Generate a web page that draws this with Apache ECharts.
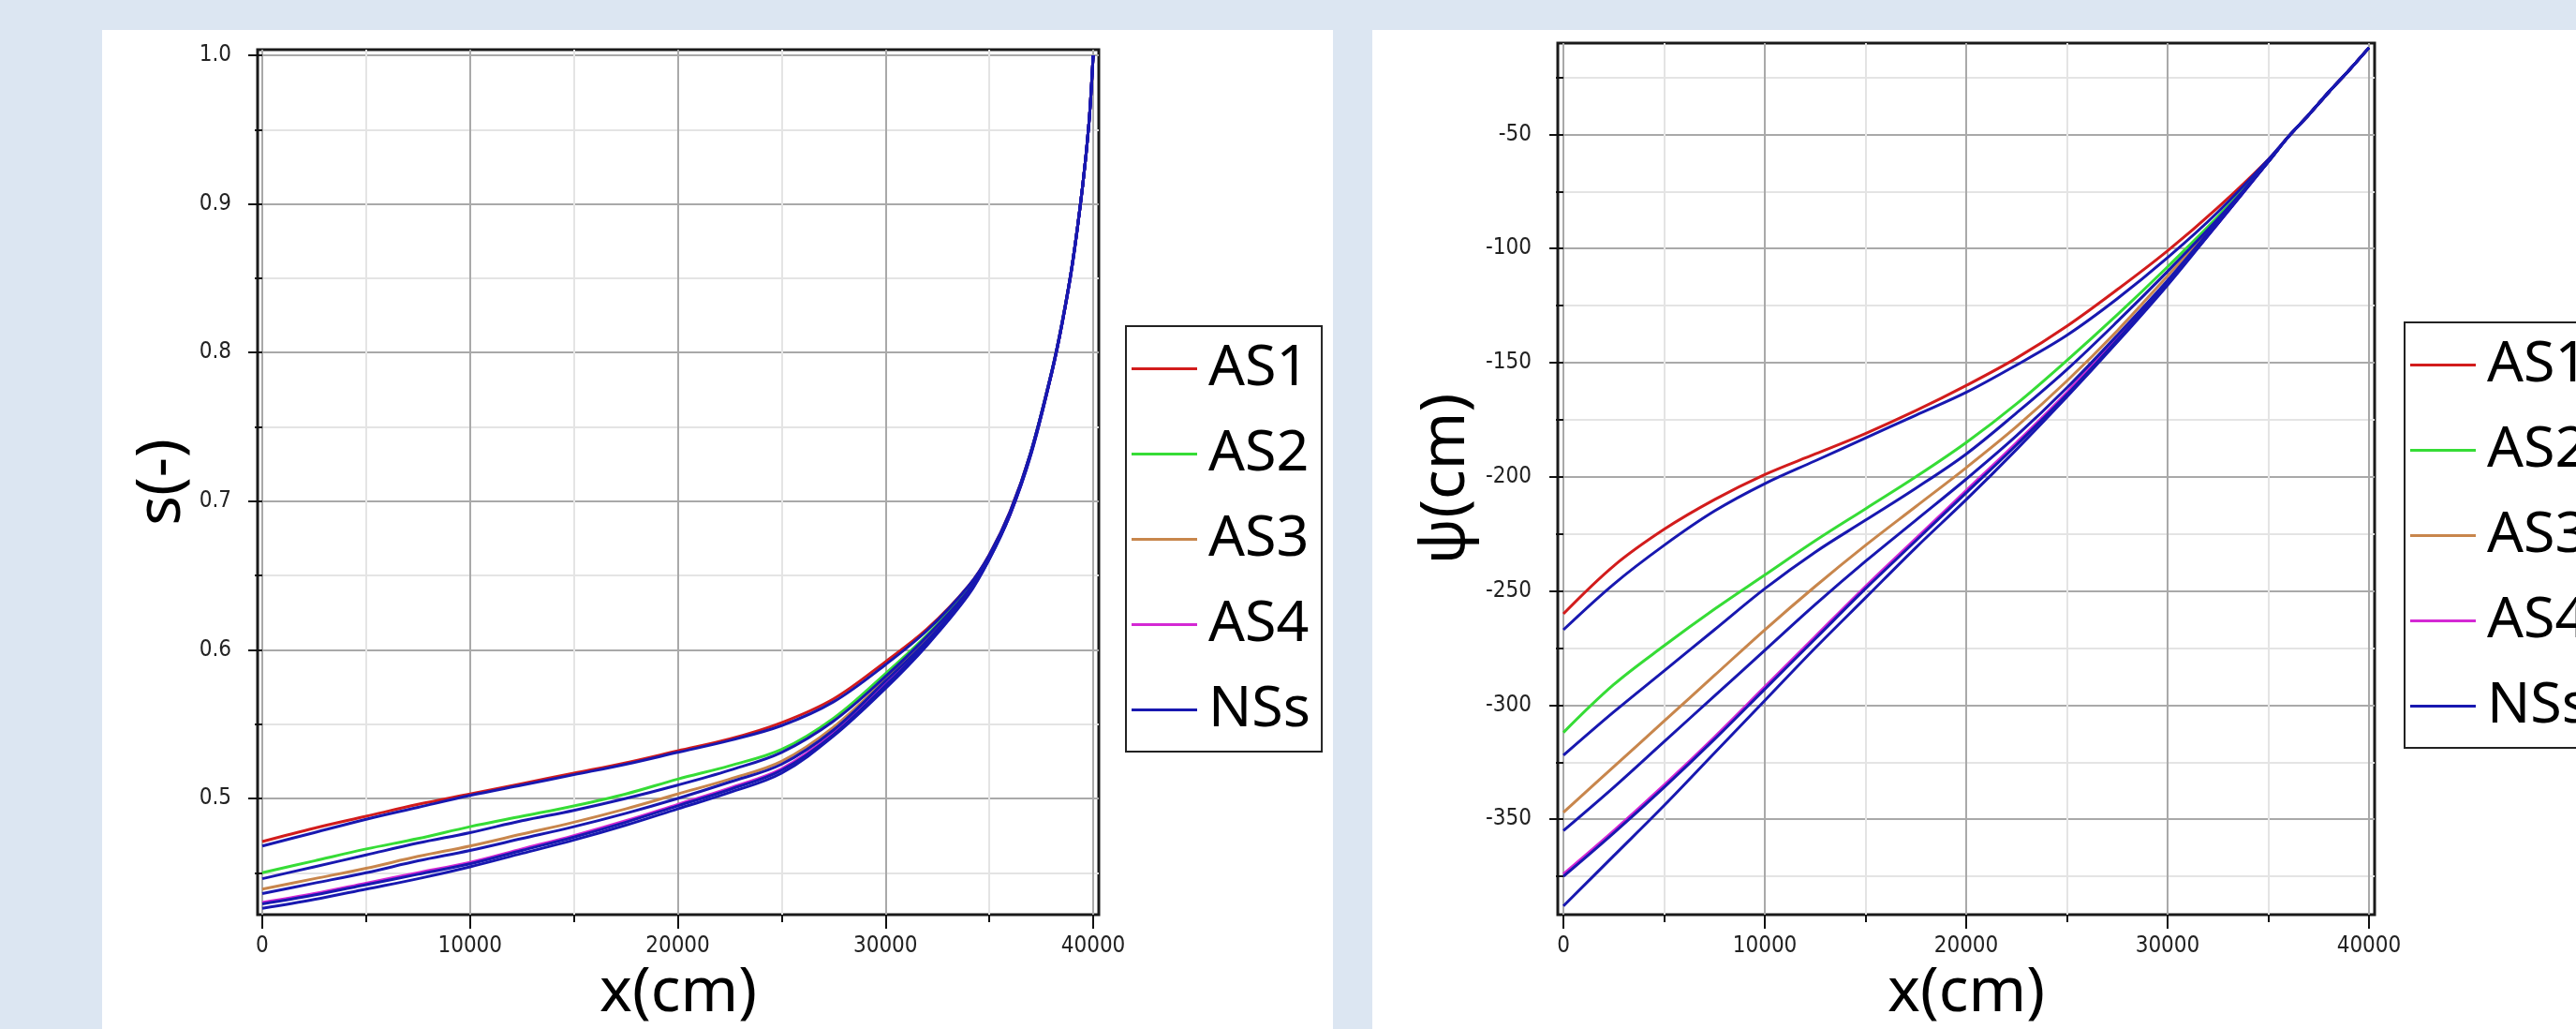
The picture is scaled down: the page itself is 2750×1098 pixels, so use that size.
<!DOCTYPE html>
<html>
<head>
<meta charset="utf-8">
<script src="https://cdn.jsdelivr.net/npm/echarts@6/dist/echarts.min.js"></script>
<style>
  html, body { margin: 0; padding: 0; background: #dce6f2; }
  .panel { position: absolute; top: 32px; height: 1066px; background: #fff; }
  #chart { position: absolute; left: 0; top: 0; width: 2750px; height: 1098px; }
</style>
</head>
<body>
<div class="panel" style="left:109px;width:1314px"></div>
<div class="panel" style="left:1465px;width:1285px"></div>
<div id="chart"></div>
<script>
// left chart: saturation s(-) along x(cm)
const xLeft = [0, 2500, 5000, 7500, 10000, 12500, 15000, 17500, 20000, 22500, 25000, 27500,
  30000, 32000, 34000, 35000, 36000, 37000, 38000, 38500, 39000, 39500, 39800, 40000]
const sAS1 = [0.471, 0.480, 0.488, 0.496, 0.503, 0.510, 0.517, 0.524, 0.532, 0.540, 0.551, 0.567, 0.592, 0.614, 0.643, 0.664, 0.693, 0.733, 0.787, 0.820, 0.860, 0.913, 0.955, 1.000]
const sAS2 = [0.450, 0.458, 0.466, 0.473, 0.481, 0.488, 0.495, 0.503, 0.513, 0.522, 0.533, 0.554, 0.584, 0.610, 0.641, 0.663, 0.692, 0.733, 0.787, 0.820, 0.860, 0.913, 0.955, 1.000]
const sAS3 = [0.439, 0.446, 0.453, 0.461, 0.468, 0.476, 0.484, 0.493, 0.503, 0.513, 0.525, 0.548, 0.580, 0.607, 0.639, 0.662, 0.692, 0.732, 0.786, 0.819, 0.860, 0.913, 0.955, 1.000]
const sAS4 = [0.430, 0.436, 0.443, 0.450, 0.457, 0.466, 0.475, 0.485, 0.496, 0.507, 0.520, 0.544, 0.577, 0.605, 0.638, 0.662, 0.691, 0.732, 0.786, 0.819, 0.859, 0.913, 0.955, 1.000]
const sNS1 = [0.468, 0.477, 0.486, 0.494, 0.502, 0.509, 0.516, 0.523, 0.531, 0.539, 0.549, 0.565, 0.590, 0.613, 0.643, 0.664, 0.693, 0.733, 0.787, 0.820, 0.860, 0.913, 0.955, 1.000]
const sNS2 = [0.446, 0.454, 0.462, 0.470, 0.477, 0.485, 0.492, 0.500, 0.509, 0.519, 0.531, 0.552, 0.582, 0.609, 0.640, 0.663, 0.692, 0.733, 0.787, 0.820, 0.860, 0.913, 0.955, 1.000]
const sNS3 = [0.436, 0.443, 0.450, 0.458, 0.465, 0.473, 0.481, 0.490, 0.500, 0.511, 0.523, 0.546, 0.579, 0.606, 0.639, 0.662, 0.692, 0.732, 0.786, 0.819, 0.860, 0.913, 0.955, 1.000]
const sNS4 = [0.429, 0.435, 0.442, 0.449, 0.456, 0.465, 0.474, 0.484, 0.495, 0.506, 0.519, 0.543, 0.576, 0.604, 0.638, 0.661, 0.691, 0.732, 0.786, 0.819, 0.859, 0.913, 0.955, 1.000]
const sNS5 = [0.426, 0.432, 0.439, 0.446, 0.454, 0.463, 0.472, 0.482, 0.493, 0.504, 0.517, 0.542, 0.574, 0.603, 0.637, 0.661, 0.691, 0.731, 0.786, 0.819, 0.859, 0.913, 0.955, 1.000]

// right chart: pressure head psi(cm) along x(cm)
const xRight = [0, 2500, 5000, 7500, 10000, 12500, 15000, 17500, 20000, 22500, 25000, 27500,
  30000, 32500, 35000, 36000, 37000, 38000, 39000, 40000]
const psiAS1 = [-260, -239, -223, -210, -199, -190, -181, -171, -160, -148, -134, -118, -101, -82, -61, -51, -41.5, -31.5, -22, -12]
const psiAS2 = [-312, -291, -274, -258, -243, -228, -214, -200, -185, -168, -149, -129, -108, -86, -62, -51, -41.5, -31.5, -22, -12]
const psiAS3 = [-347, -327, -307, -287, -267, -248, -230, -213, -196, -178, -158, -136, -112, -88, -62, -51, -41.5, -31.5, -22, -12]
const psiAS4 = [-374, -355, -335, -314, -292, -270, -248, -227, -206, -185, -163, -139, -115, -89, -62, -51, -41.5, -31.5, -22, -12]
const psiNS1 = [-267, -247, -230, -215, -203, -193, -183, -173, -163, -151, -138, -122, -104, -84, -61, -51, -41.5, -31.5, -22, -12]
const psiNS2 = [-322, -303, -285, -267, -249, -233, -219, -205, -190, -172, -153, -132, -110, -87, -62, -51, -41.5, -31.5, -22, -12]
const psiNS3 = [-355, -336, -316, -296, -276, -256, -237, -219, -201, -182, -161, -138, -114, -88, -62, -51, -41.5, -31.5, -22, -12]
const psiNS4 = [-375, -356, -336, -315, -293, -271, -249, -228, -207, -186, -164, -140, -115, -89, -62, -51, -41.5, -31.5, -22, -12]
const psiNS5 = [-388, -366, -344, -321, -298, -275, -253, -231, -210, -188, -165, -141, -116, -89, -62, -51, -41.5, -31.5, -22, -12]

// tick labels
const xMajorTicks = [0, 10000, 20000, 30000, 40000]
const xMinorTicks = [5000, 15000, 25000, 35000]
const sMajorTicks = [0.5, 0.6, 0.7, 0.8, 0.9, 1.0]
const sMinorTicks = [0.45, 0.55, 0.65, 0.75, 0.85, 0.95]
const psiMajorTicks = [-350, -300, -250, -200, -150, -100, -50]
const psiMinorTicks = [-375, -325, -275, -225, -175, -125, -75, -25]

const legendNames = ['AS1', 'AS2', 'AS3', 'AS4', 'NSs']
const colors = { AS1: '#d21c1c', AS2: '#36dc36', AS3: '#c8864c', AS4: '#d428d4', NSs: '#1818b0' }

const tickFont = "'Liberation Sans Narrow', 'DejaVu Sans Condensed', sans-serif"
const bigFont = "'Noto Sans', 'Open Sans', sans-serif"

const myChart = echarts.init(document.getElementById('chart'), null, { renderer: 'canvas' })

const majorAxis = (gridIndex, position, min, max, ticks, name, nameGap, fmt) => ({
  type: 'value',
  gridIndex,
  position,
  min,
  max,
  name,
  nameLocation: 'middle',
  nameGap,
  nameTextStyle: { fontFamily: bigFont, fontSize: 66, color: '#000' },
  axisLine: { show: false },
  axisTick: { show: true, length: 15, customValues: ticks, lineStyle: { color: '#111', width: 2 } },
  axisLabel: {
    show: true,
    customValues: ticks,
    margin: position === 'left' ? 28 : 22,
    fontFamily: tickFont,
    fontSize: 24,
    color: '#222',
    formatter: fmt || ((v) => String(v)),
  },
  splitLine: { show: true, lineStyle: { color: '#a9a9a9', width: 2 } },
})

const minorAxis = (gridIndex, position, min, max, ticks) => ({
  type: 'value',
  gridIndex,
  position,
  min,
  max,
  axisLine: { show: false },
  axisTick: { show: true, length: 8, customValues: ticks, lineStyle: { color: '#111', width: 2 } },
  axisLabel: { show: false },
  splitLine: { show: true, lineStyle: { color: '#e4e4e4', width: 2 } },
})

const toPairs = (xs, ys) => xs.map((x, i) => [x, ys[i]])

const makeSeries = (name, xs, ys, axisIndex) => ({
  name,
  type: 'line',
  xAxisIndex: axisIndex,
  yAxisIndex: axisIndex,
  data: toPairs(xs, ys),
  color: colors[name],
  symbol: 'none',
  smooth: 0.35,
  lineStyle: { width: 3, color: colors[name] },
  animation: false,
})

const makeLegend = (left, top) => ({
  left,
  top,
  orient: 'vertical',
  data: legendNames,
  icon: 'rect',
  itemWidth: 70,
  itemHeight: 3,
  itemGap: 30,
  padding: [15, 12, 14, 6],
  borderColor: '#222',
  borderWidth: 2,
  backgroundColor: '#fff',
  selectedMode: false,
  textStyle: { fontFamily: bigFont, fontSize: 61, lineHeight: 61, color: '#000', padding: [0, 0, 0, 7] },
})

const option = {
  animation: false,
  grid: [
    { left: 275, top: 53, width: 898, height: 923, show: true, borderColor: '#1a1a1a', borderWidth: 3, backgroundColor: 'transparent' },
    { left: 1663, top: 46, width: 872, height: 930, show: true, borderColor: '#1a1a1a', borderWidth: 3, backgroundColor: 'transparent' },
  ],
  legend: [makeLegend(1202, 348), makeLegend(2567, 344)],
  xAxis: [
    majorAxis(0, 'bottom', -225, 40270, xMajorTicks, 'x(cm)', 38),
    minorAxis(0, 'bottom', -225, 40270, xMinorTicks),
    majorAxis(1, 'bottom', -280, 40280, xMajorTicks, 'x(cm)', 38),
    minorAxis(1, 'bottom', -280, 40280, xMinorTicks),
  ],
  yAxis: [
    majorAxis(0, 'left', 0.4218, 1.0038, sMajorTicks, 's(-)', 69, (v) => v.toFixed(1)),
    minorAxis(0, 'left', 0.4218, 1.0038, sMinorTicks),
    majorAxis(1, 'left', -391.8, -10, psiMajorTicks, 'ψ(cm)', 86),
    minorAxis(1, 'left', -391.8, -10, psiMinorTicks),
  ],
  series: [
    makeSeries('AS1', xLeft, sAS1, 0),
    makeSeries('AS2', xLeft, sAS2, 0),
    makeSeries('AS3', xLeft, sAS3, 0),
    makeSeries('AS4', xLeft, sAS4, 0),
    makeSeries('NSs', xLeft, sNS1, 0),
    makeSeries('NSs', xLeft, sNS2, 0),
    makeSeries('NSs', xLeft, sNS3, 0),
    makeSeries('NSs', xLeft, sNS4, 0),
    makeSeries('NSs', xLeft, sNS5, 0),
    makeSeries('AS1', xRight, psiAS1, 2),
    makeSeries('AS2', xRight, psiAS2, 2),
    makeSeries('AS3', xRight, psiAS3, 2),
    makeSeries('AS4', xRight, psiAS4, 2),
    makeSeries('NSs', xRight, psiNS1, 2),
    makeSeries('NSs', xRight, psiNS2, 2),
    makeSeries('NSs', xRight, psiNS3, 2),
    makeSeries('NSs', xRight, psiNS4, 2),
    makeSeries('NSs', xRight, psiNS5, 2),
  ],
}

myChart.setOption(option)
</script>
</body>
</html>
